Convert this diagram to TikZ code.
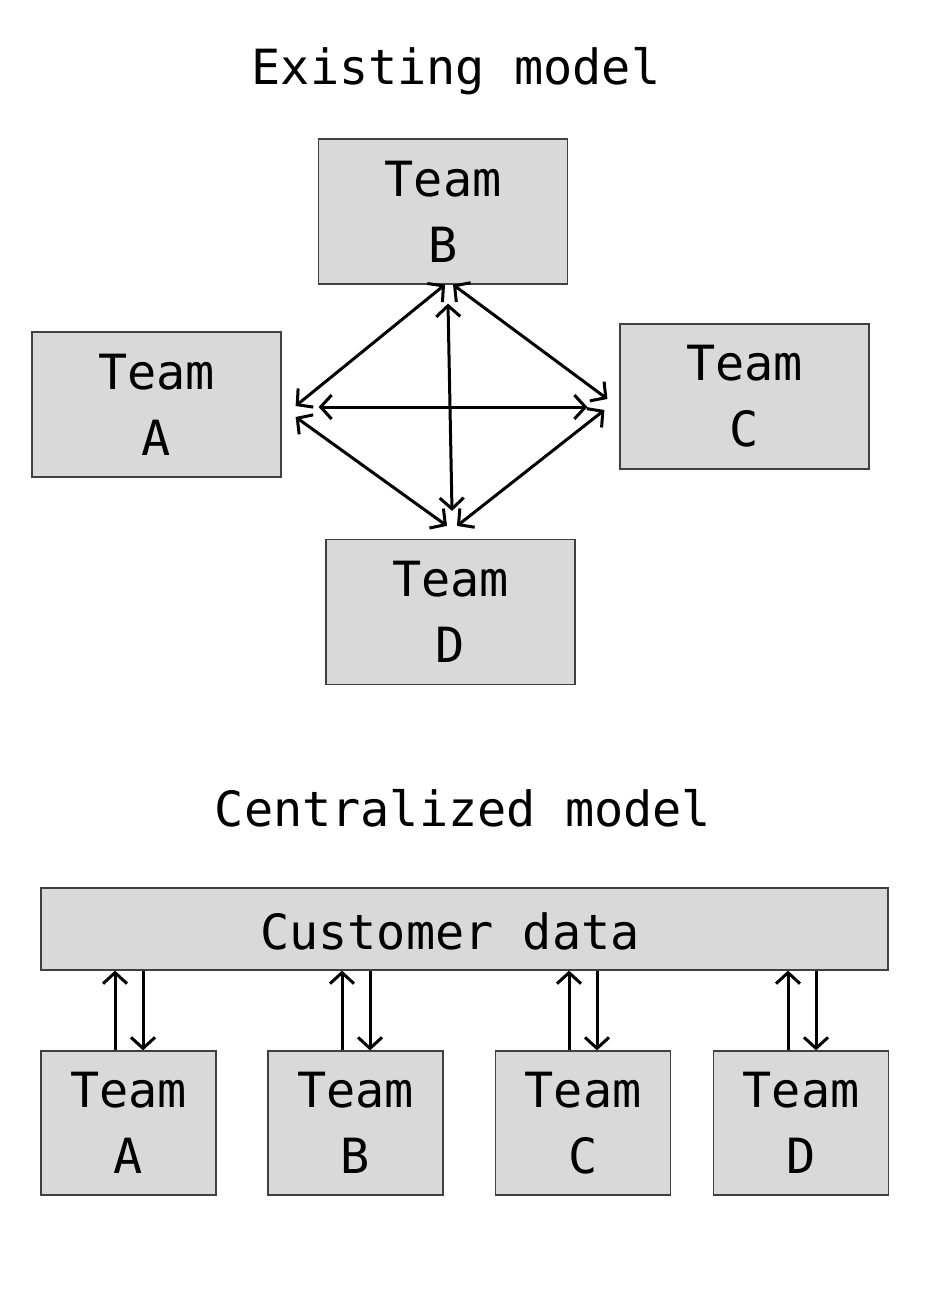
\documentclass[tikz,border=0pt]{standalone}
\usepackage{fontspec}
\setmainfont{DejaVu Sans Mono}
\usetikzlibrary{arrows.meta}
\begin{document}
\begin{tikzpicture}[x=1pt,y=-1pt,
  box/.style={draw=black!75,line width=1.2pt,fill=black!15,align=center,inner sep=0pt,
    font=\fontsize{48.5}{66}\selectfont},
  teambig/.style={box,minimum width=249pt,minimum height=145pt},
  teamsmall/.style={box,minimum width=175pt,minimum height=144pt},
  lbl/.style={font=\fontsize{48.5}{66}\selectfont,inner sep=0pt},
  arr/.style={line width=3pt,{Straight Barb[length=11pt,width=24pt]}-{Straight Barb[length=11pt,width=24pt]}},
  up/.style={line width=3pt,-{Straight Barb[length=11pt,width=24pt]}}]
\useasboundingbox (0,0) rectangle (927,1289);
% titles
\node[lbl,anchor=base] (t1) at (456,85) {Existing model};
\node[lbl,anchor=base] (t2) at (463,826) {Centralized model};
% existing model
\node[teambig] (tB) at (443,211.5) {Team\\B};
\node[teambig] (tA) at (156.5,404.5) {Team\\A};
\node[teambig] (tC) at (744.5,396.5) {Team\\C};
\node[teambig] (tD) at (450.5,612) {Team\\D};
\draw[arr] ([xshift=2pt]tB.south) -- ([xshift=14pt,yshift=-1.5pt]tA.east);
\draw[arr] ([xshift=10pt]tB.south) -- ([xshift=-12pt,yshift=-2.5pt]tC.west);
\draw[arr] ([xshift=37pt,yshift=-2.5pt]tA.east) -- ([xshift=-32pt,yshift=-10.5pt]tC.west);
\draw[arr] ([xshift=5pt,yshift=-19pt]tB.south) -- ([xshift=1.5pt,yshift=28pt]tD.north);
\draw[arr] ([xshift=14pt,yshift=-12.5pt]tA.east) -- ([xshift=-3.5pt,yshift=13pt]tD.north);
\draw[arr] ([xshift=-15pt,yshift=-13.5pt]tC.west) -- ([xshift=6.5pt,yshift=13pt]tD.north);
% centralized model
\node[box,minimum width=847pt,minimum height=82pt] (cd) at (464.5,929) {};
\node[lbl] (cdt) at (450,931) {Customer data};
\node[teamsmall] (bA) at (128.5,1123) {Team\\A};
\node[teamsmall] (bB) at (355.5,1123) {Team\\B};
\node[teamsmall] (bC) at (583,1123) {Team\\C};
\node[teamsmall] (bD) at (801,1123) {Team\\D};
\foreach \n/\x in {bA/115,bB/342,bC/569,bD/788}{
  \draw[up] (\n.north -| \x,0) -- (cd.south -| \x,0);
  \draw[up] (cd.south -| \x+28,0) -- (\n.north -| \x+28,0);
}
\end{tikzpicture}
\end{document}
